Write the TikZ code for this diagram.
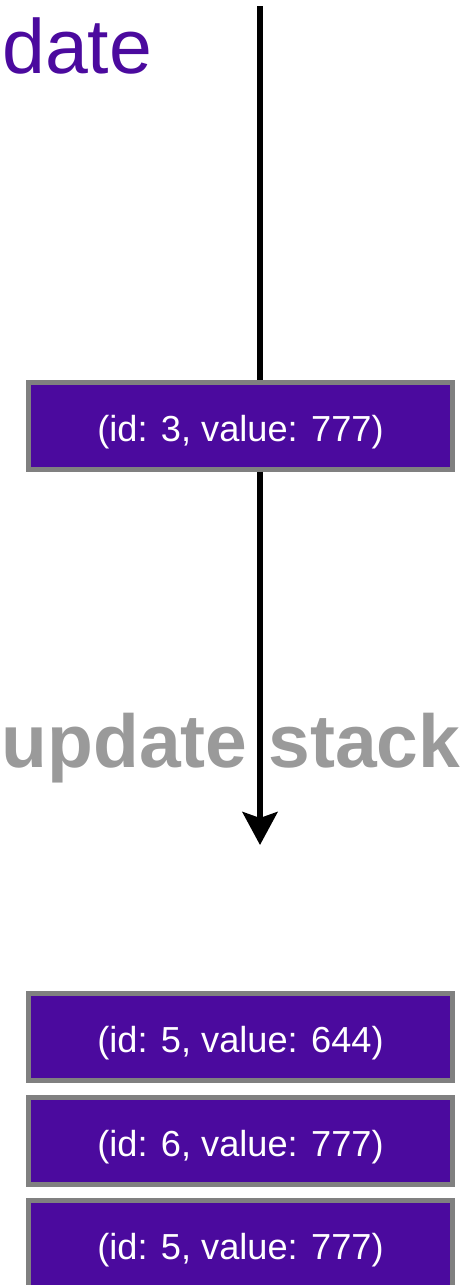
\documentclass[tikz,border=0pt]{standalone}
\usepackage{fontspec}
\setmainfont{Liberation Sans}
\usetikzlibrary{arrows.meta}
\definecolor{entry}{HTML}{4B0A9E}
\definecolor{frame}{HTML}{808080}
\definecolor{caption}{HTML}{9A9A9A}
\tikzset{
  entrybox/.style={draw=frame, line width=5pt, fill=entry, text=white,
    minimum width=424pt, minimum height=87pt, inner sep=0pt,
    text height=38pt, text depth=7pt,
    font=\fontsize{36.2}{40}\selectfont},
  flow/.style={line width=5.5pt, black},
}
\begin{document}
\begin{tikzpicture}[x=1pt,y=1pt]
  \useasboundingbox (0,0) rectangle (465,-1285);

  % headings
  \node[anchor=base west, inner sep=0pt, text=entry,
        font=\fontsize{77}{80}\selectfont] (title) at (2,-73) {date};
  \node[anchor=base west, inner sep=0pt, text=caption,
        font=\fontsize{75}{78}\selectfont\bfseries] (stacklabel) at (1.5,-767) {update stack};

  % incoming entry
  \node[entrybox] (e1) at (240.5,-425.5) {(id: 3, value: 777)};

  % resulting stack
  \node[entrybox] (s1) at (240.5,-1037) {(id: 5, value: 644)};
  \node[entrybox] (s2) at (240.5,-1140.5) {(id: 6, value: 777)};
  \node[entrybox] (s3) at (240.5,-1244) {(id: 5, value: 777)};

  % flow line
  \coordinate (top) at (260,-6);
  \coordinate (tip) at (260,-845);
  \draw[flow] (top) -- (top |- e1.north);
  \draw[flow, -{Stealth[length=33pt, width=35pt, inset=6pt]}] (tip |- e1.south) -- (tip);
\end{tikzpicture}
\end{document}
